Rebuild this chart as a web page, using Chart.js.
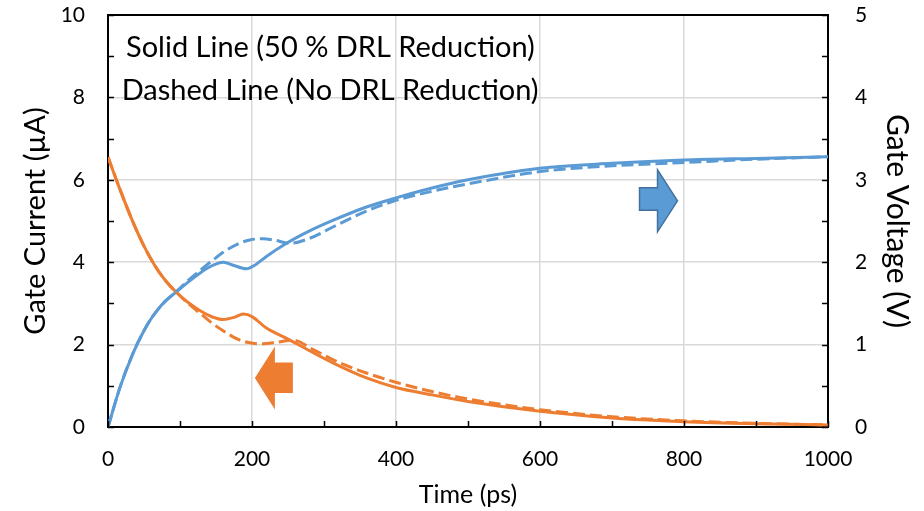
<!DOCTYPE html>
<html>
<head>
<meta charset="utf-8">
<script src="https://cdn.jsdelivr.net/npm/chart.js@4.4.1/dist/chart.umd.min.js"></script>
<style>
html,body{margin:0;padding:0;background:#fff;}
#wrap{width:924px;height:511px;position:relative;}
</style>
</head>
<body>
<div id="wrap"><canvas id="c" width="924" height="511"></canvas></div>
<script>
// ---- data (time in ps) ----
const currentSolidT = [0,17,35,50,65,80,95,110,128,145,160,175,188,200,220,248,280,313,359,400,450,500,600,700,800,900,1000];
const currentSolid  = [6.55,5.75,4.96,4.39,3.92,3.55,3.27,3.04,2.82,2.67,2.61,2.66,2.74,2.68,2.40,2.15,1.85,1.55,1.19,0.96,0.78,0.62,0.38,0.22,0.13,0.08,0.05];

const currentDashT = [0,17,35,50,65,80,95,110,128,146,165,180,195,211,235,257,285,313,359,401,450,500,600,700,800,900,1000];
const currentDash  = [6.55,5.75,4.96,4.39,3.92,3.55,3.27,3.02,2.76,2.50,2.28,2.13,2.05,2.02,2.06,2.11,1.88,1.63,1.31,1.08,0.86,0.68,0.42,0.25,0.15,0.09,0.05];

const voltSolidT = [0,17,35,47,58,70,80,95,110,128,145,160,175,192,205,220,248,280,313,359,400,450,500,600,700,800,900,1000];
const voltSolid  = [0,0.49,0.90,1.12,1.29,1.434,1.53,1.64,1.75,1.87,1.96,2.0,1.96,1.92,1.97,2.07,2.23,2.38,2.51,2.67,2.78,2.90,3.0,3.14,3.20,3.24,3.26,3.28];

const voltDashT = [0,17,35,47,58,70,80,95,110,128,145,160,180,197,215,230,253,280,313,359,400,450,500,600,700,800,900,1000];
const voltDash  = [0,0.49,0.90,1.12,1.29,1.434,1.53,1.645,1.77,1.90,2.02,2.12,2.22,2.27,2.285,2.27,2.23,2.29,2.43,2.62,2.75,2.86,2.95,3.10,3.17,3.21,3.25,3.28];

const xTicks = [0,200,400,600,800,1000];
const notes = ["Solid Line (50 % DRL Reduction)", "Dashed Line (No DRL Reduction)"];

const ORANGE = '#ED7D31', BLUE = '#5B9BD5';
const FONT = 'Lato, "Open Sans", sans-serif';

function pts(xs, ys){ return xs.map((x,i)=>({x:x,y:ys[i]})); }

const decor = {
  id:'decor',
  afterDatasetsDraw(chart){
    const ctx = chart.ctx, a = chart.chartArea;
    const xs = chart.scales.x, yl = chart.scales.y, yr = chart.scales.y2;
    ctx.save();
    // top border
    ctx.strokeStyle = '#000'; ctx.lineWidth = 2;
    ctx.beginPath(); ctx.moveTo(a.left-1, a.top); ctx.lineTo(a.right+1, a.top); ctx.stroke();
    // inward tick marks
    ctx.lineWidth = 1.5;
    const L = 6;
    ctx.beginPath();
    for (let v=0; v<=1000; v+=100){ const px = Math.round(xs.getPixelForValue(v))+0.5; ctx.moveTo(px, a.bottom); ctx.lineTo(px, a.bottom-L); }
    for (let v=0; v<=10; v+=1){ const py = Math.round(yl.getPixelForValue(v))+0.5; ctx.moveTo(a.left, py); ctx.lineTo(a.left+L, py); }
    for (let v=0; v<=5; v+=0.5){ const py = Math.round(yr.getPixelForValue(v))+0.5; ctx.moveTo(a.right, py); ctx.lineTo(a.right-L, py); }
    ctx.stroke();
    // notes
    ctx.fillStyle = '#000';
    ctx.font = '29px ' + FONT;
    ctx.textBaseline = 'middle';
    ctx.textAlign = 'left';
    ctx.fillText(notes[0], xs.getPixelForValue(25), yl.getPixelForValue(9.2));
    ctx.fillText(notes[1], xs.getPixelForValue(19), yl.getPixelForValue(8.17));
    // orange arrow (pointing left toward current axis)
    let tx = xs.getPixelForValue(204), ty = yl.getPixelForValue(1.19);
    ctx.fillStyle = ORANGE;
    ctx.beginPath();
    ctx.moveTo(tx, ty);
    ctx.lineTo(tx+20, ty-31.5);
    ctx.lineTo(tx+20, ty-15.5);
    ctx.lineTo(tx+38, ty-15.5);
    ctx.lineTo(tx+38, ty+15);
    ctx.lineTo(tx+20, ty+15);
    ctx.lineTo(tx+20, ty+31.5);
    ctx.closePath(); ctx.fill();
    // blue arrow (pointing right toward voltage axis)
    tx = xs.getPixelForValue(791); ty = yr.getPixelForValue(2.745);
    ctx.fillStyle = BLUE; ctx.strokeStyle = '#41719C'; ctx.lineWidth = 1.5;
    ctx.beginPath();
    ctx.moveTo(tx, ty);
    ctx.lineTo(tx-20, ty-31);
    ctx.lineTo(tx-20, ty-13);
    ctx.lineTo(tx-38, ty-13);
    ctx.lineTo(tx-38, ty+9.5);
    ctx.lineTo(tx-20, ty+9.5);
    ctx.lineTo(tx-20, ty+31);
    ctx.closePath(); ctx.fill(); ctx.stroke();
    ctx.restore();
  }
};

const common = {pointRadius:0, borderWidth:3, fill:false, cubicInterpolationMode:'monotone'};

function fixV(w){ return function(s){ s.width = w; s.paddingTop = 0; s.paddingBottom = 0; }; }

new Chart(document.getElementById('c'), {
  type:'line',
  data:{
    datasets:[
      Object.assign({label:'Gate Current (dashed)', data:pts(currentDashT,currentDash), borderColor:ORANGE, borderDash:[12,5], yAxisID:'y'}, common),
      Object.assign({label:'Gate Voltage (dashed)', data:pts(voltDashT,voltDash), borderColor:BLUE, borderDash:[12,5], yAxisID:'y2'}, common),
      Object.assign({label:'Gate Current', data:pts(currentSolidT,currentSolid), borderColor:ORANGE, yAxisID:'y'}, common),
      Object.assign({label:'Gate Voltage', data:pts(voltSolidT,voltSolid), borderColor:BLUE, yAxisID:'y2'}, common)
    ]
  },
  options:{
    responsive:false, animation:false, devicePixelRatio:1,
    layout:{padding:{top:15,left:0,right:0,bottom:0}},
    plugins:{legend:{display:false}, tooltip:{enabled:false}},
    scales:{
      x:{type:'linear', min:0, max:1000,
         afterBuildTicks(s){ s.ticks = xTicks.map(v=>({value:v})); },
         afterFit(s){ s.height = 84; s.paddingLeft = 0; s.paddingRight = 0; },
         grid:{color:'#D9D9D9', lineWidth:1.5, drawTicks:false},
         border:{color:'#000', width:2},
         ticks:{padding:20, color:'#000', font:{family:FONT, size:21}, callback:(v)=>String(v)},
         title:{display:true, text:'Time (ps)', color:'#000', font:{family:FONT, size:25, lineHeight:1}, padding:{top:0,bottom:4}}
      },
      y:{position:'left', min:0, max:10,
         ticks:{stepSize:2, padding:23, color:'#000', font:{family:FONT, size:21}},
         afterFit: fixV(108),
         grid:{color:'#D9D9D9', lineWidth:1.5, drawTicks:false},
         border:{color:'#000', width:2},
         title:{display:true, text:'Gate Current (µA)', color:'#000', font:{family:FONT, size:29, lineHeight:1}, padding:{top:21,bottom:0}}
      },
      y2:{position:'right', min:0, max:5,
         ticks:{stepSize:1, padding:27, color:'#000', font:{family:FONT, size:21}},
         afterFit: fixV(96),
         grid:{drawOnChartArea:false, drawTicks:false},
         border:{color:'#000', width:2},
         title:{display:true, text:'Gate Voltage (V)', color:'#000', font:{family:FONT, size:30, lineHeight:1}, padding:{top:12,bottom:0}}
      }
    }
  },
  plugins:[decor]
});
</script>
</body>
</html>
